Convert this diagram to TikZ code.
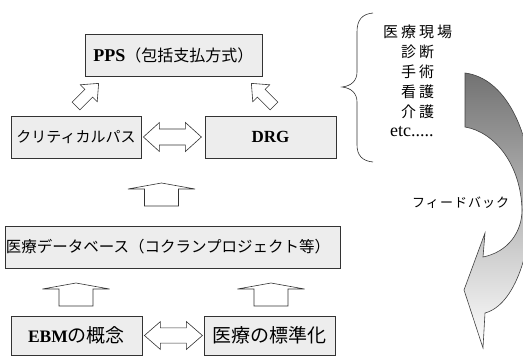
\documentclass[tikz,border=0pt]{standalone}
\usepackage{fontspec}
\usetikzlibrary{calc}
\setmainfont{Liberation Serif}
\newfontfamily\jp{Noto Sans CJK JP}
\newfontfamily\jpls[LetterSpace=20]{Noto Sans CJK JP}
\newfontfamily\jpfb[LetterSpace=8]{Noto Sans CJK JP}
\newcommand\fs[1]{\fontsize{#1}{#1}\selectfont}
\tikzset{
  box/.style={draw=black!80,line width=0.8pt,fill=black!7,inner sep=0pt,minimum height=42pt},
  blk/.style={draw=black!80,line width=0.6pt,fill=white,line join=miter},
  lbl/.style={anchor=west,inner sep=0pt},
  dblarr/.pic={\draw[blk] (0,0) -- (16,-14.5) -- (16,-8) -- (42,-8) -- (42,-14.5) -- (58,0)
      -- (42,14.5) -- (42,8) -- (16,8) -- (16,14.5) -- cycle;},
  uparr/.pic={\draw[blk] (0,0) -- (33.5,6) -- (17,6) -- (17,23) -- (-17,23) -- (-17,6)
      -- (-33.5,6) -- cycle;},
  smallarr/.pic={\draw[blk] (0,-5.5) -- (18,-5.5) -- (18,-12) -- (32,0) -- (18,12)
      -- (18,5.5) -- (0,5.5) -- cycle;}
}
\begin{document}
\begin{tikzpicture}[x=1pt,y=-1pt]
\useasboundingbox (0,0) rectangle (523,356);
% boxes
\node[box,minimum width=177pt] (pps) at (173.5,55) {{\bfseries\fs{18}PPS}{\jp\fs{16}（包括支払方式）}};
\node[box,minimum width=130pt] (cp) at (76,137) {\jp\fs{15}クリティカルパス};
\node[box,minimum width=131pt] (drg) at (270.5,137) {\bfseries\fs{17}DRG};
\node[box,minimum width=324pt] (db) at (173,247) {\jp\fs{15.5}医療データベース（コクランプロジェクト等）\hspace*{10pt}};
\node[box,minimum width=131pt,minimum height=39pt] (ebm) at (76.5,335.5) {{\bfseries\fs{17.5}EBM}{\jp\fs{19}の概念}};
\node[box,minimum width=131pt,minimum height=39pt] (std) at (269.5,335.5) {\jp\fs{19}医療の標準化};
% block arrows
\pic at ($(cp.east)+(2,0)$) {dblarr};
\pic[yscale=0.96] at ($(ebm.east)+(2,0)$) {dblarr};
\pic at (161.5,183) {uparr};
\pic at (76,283) {uparr};
\pic at (271,283) {uparr};
\pic[rotate=45] at (76,106) {smallarr};
\pic[rotate=135] at (274,106) {smallarr};
% brace
\draw[line width=0.6pt,black!80] (373,13) .. controls (362,14) and (357,20) .. (357,32)
  -- (357,72) .. controls (357,81) and (351,86) .. (342,87)
  .. controls (351,88) and (357,93) .. (357,102)
  -- (357,145) .. controls (357,155) and (362,161) .. (373,162);
% list
\node[lbl] (t0) at (383,32) {\jpls\fs{15}医療現場};
\node[lbl] (t1) at (401,52) {\jpls\fs{15}診断};
\node[lbl] (t2) at (401,72) {\jpls\fs{15}手術};
\node[lbl] (t3) at (401,92) {\jpls\fs{15}看護};
\node[lbl] (t4) at (401,112) {\jpls\fs{15}介護};
\node[lbl] (t5) at (390,132) {\fs{18}etc.....};
\node[lbl] (fb) at (412,203) {\jpfb\fs{13}フィードバック};
% curved feedback arrow
\begin{scope}
\clip (0,0) rectangle (523,356);
\draw[line width=0.6pt,draw=black!75,top color=black!55,middle color=black!28,bottom color=white]
  (465,73) .. controls (505,78) and (530,130) .. (532,190)
  .. controls (533,250) and (515,305) .. (485,313)
  -- (483,348) -- (464,290) -- (485,233) -- (483,257)
  .. controls (508,252) and (522,232) .. (522,210)
  .. controls (521,165) and (495,132) .. (465,127) -- cycle;
\end{scope}
\end{tikzpicture}
\end{document}
